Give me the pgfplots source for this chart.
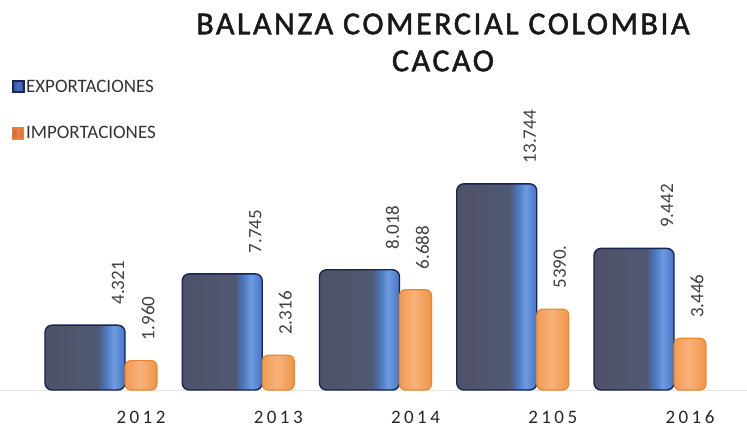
\documentclass[border=0pt]{standalone}
\usepackage{fontspec}
\setmainfont{Carlito}
\newfontfamily\yearfont[LetterSpace=18]{Carlito}
\newfontfamily\titlefont[LetterSpace=8, FakeBold=1.6]{Carlito}
\usepackage{pgfplots}
\pgfplotsset{compat=1.18}
\definecolor{expgray}{HTML}{4E5268}
\definecolor{expgray2}{HTML}{515872}
\definecolor{expblue}{HTML}{4A78C2}
\definecolor{exphigh}{HTML}{6E9CE0}
\definecolor{expblue2}{HTML}{4574C8}
\definecolor{expline}{HTML}{1A2356}
\definecolor{impA}{HTML}{F29B55}
\definecolor{impB}{HTML}{F7B27A}
\definecolor{impC}{HTML}{EF9548}
\definecolor{impline}{HTML}{E8872E}
\definecolor{legexp}{HTML}{2E52A0}
\definecolor{legexp2}{HTML}{4A70C0}
\definecolor{legimp}{HTML}{D9653A}
\definecolor{legimp2}{HTML}{E98050}
\pgfdeclarehorizontalshading{expshade}{100bp}{color(0bp)=(expgray); color(25bp)=(expgray); color(58bp)=(expgray2); color(63bp)=(expblue); color(68bp)=(exphigh); color(75bp)=(expblue2); color(100bp)=(expblue2)}
\pgfdeclarehorizontalshading{impshade}{100bp}{color(0bp)=(impA); color(25bp)=(impA); color(48bp)=(impB); color(75bp)=(impC); color(100bp)=(impC)}
\pgfdeclarehorizontalshading{legexpsh}{100bp}{color(0bp)=(legexp); color(25bp)=(legexp); color(50bp)=(legexp2); color(75bp)=(legexp); color(100bp)=(legexp)}
\pgfdeclarehorizontalshading{legimpsh}{100bp}{color(0bp)=(legimp); color(25bp)=(legimp); color(50bp)=(legimp2); color(75bp)=(legimp); color(100bp)=(legimp)}
\pgfplotsset{
  expbar/.style={ybar, bar width=0.583, bar shift=-0.408, shading=expshade, draw=expline, line width=1.4pt, rounded corners=7pt,
    every node near coord/.append style={xshift=-23pt, yshift=20pt, rotate=90, anchor=west},
    legend image code/.code={\path[shading=legexpsh, sharp corners] (0pt,-5.5pt) rectangle (11pt,5.5pt);}},
  impbar/.style={ybar, bar width=0.233, bar shift=0, shading=impshade, draw=impline, line width=1.2pt, rounded corners=6pt,
    every node near coord/.append style={xshift=7pt, yshift=20pt, rotate=90, anchor=west},
    legend image code/.code={\path[shading=legimpsh, sharp corners] (0pt,-5.5pt) rectangle (11pt,5.5pt);}},
}
\begin{document}
\begin{tikzpicture}
\useasboundingbox (0,0) rectangle (747pt,432pt);
\begin{axis}[
  at={(0pt,42pt)}, anchor=south west,
  scale only axis, width=747pt, height=300pt,
  xmin=-1.0273, xmax=4.4153, ymin=0, ymax=20,
  axis y line=none, axis x line=bottom,
  x axis line style={-, draw=gray!20, line width=0.8pt},
  xtick={0,1,2,3,4}, xticklabels={2012,2013,2014,2105,2016},
  major tick length=0pt,
  xticklabel style={anchor=base, yshift=-33pt, font=\yearfont\fontsize{19}{22}\selectfont, text=black!85},
  clip=false,
  nodes near coords, point meta=explicit symbolic,
  nodes near coords style={font=\fontsize{19}{22}\selectfont, text=black!75, inner sep=0pt},
  title={BALANZA COMERCIAL COLOMBIA\\CACAO},
  title style={at={(0.593,1)}, anchor=south, yshift=9pt, align=center, font=\titlefont\fontsize{32}{37}\selectfont, text=black!90},
  legend style={draw=none, fill=none, at={(0.016,1.04)}, anchor=north west, font=\fontsize{19}{22}\selectfont, row sep=30pt, inner sep=0pt, nodes={inner sep=1.5pt, text=black!80}},
  legend cell align=left,
]
\addplot[expbar] coordinates {(0,4.321) [4.321]};
\addlegendentry{EXPORTACIONES}
\addplot[impbar] coordinates {(0,1.960) [1.960]};
\addlegendentry{IMPORTACIONES}
\addplot[expbar, forget plot] coordinates {(1,7.745) [7.745]};
\addplot[impbar, forget plot] coordinates {(1,2.316) [2.316]};
\addplot[expbar, forget plot] coordinates {(2,8.018) [8.018]};
\addplot[impbar, forget plot] coordinates {(2,6.688) [6.688]};
\addplot[expbar, forget plot] coordinates {(3,13.744) [13.744]};
\addplot[impbar, forget plot] coordinates {(3,5.390) [5390.]};
\addplot[expbar, forget plot] coordinates {(4,9.442) [9.442]};
\addplot[impbar, forget plot] coordinates {(4,3.446) [3.446]};
\end{axis}
\end{tikzpicture}
\end{document}
